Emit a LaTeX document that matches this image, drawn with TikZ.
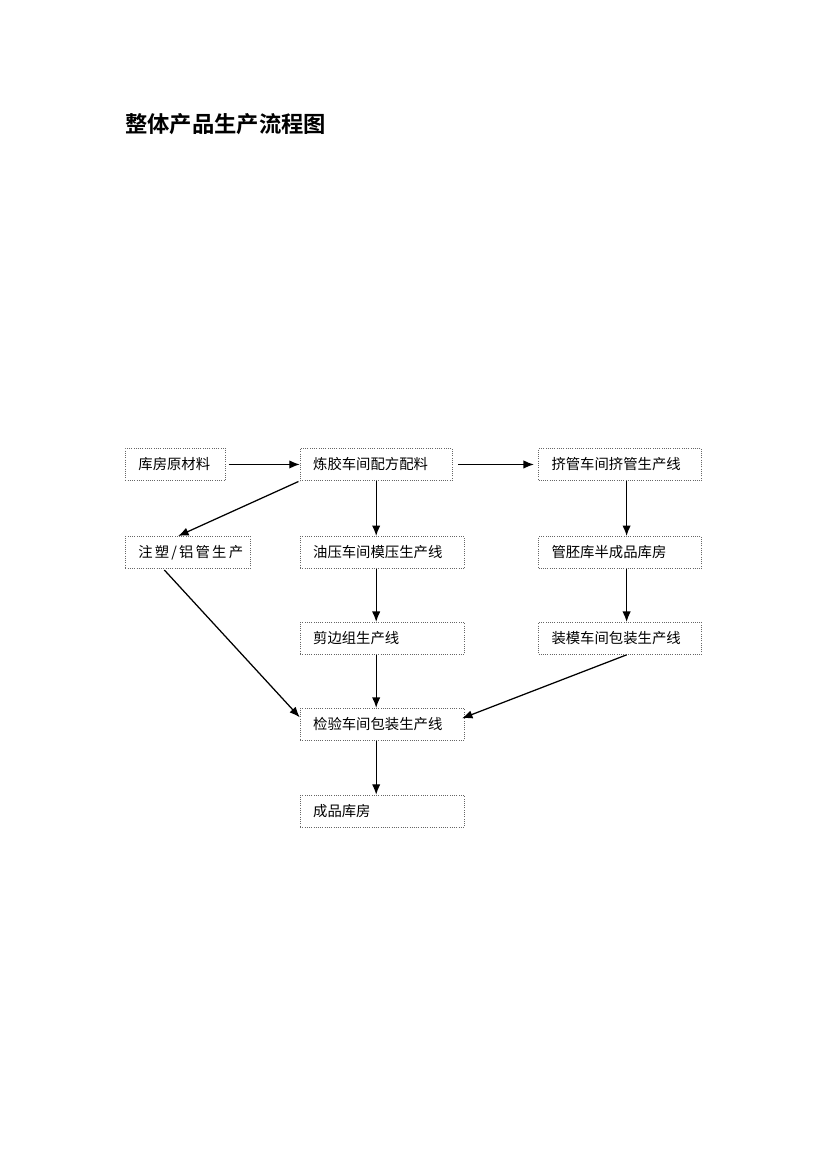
\documentclass[tikz,border=0pt]{standalone}
\usepackage{fontspec}
\newfontfamily\cjk{Noto Sans CJK SC}
\newfontfamily\cjkbold{Noto Sans CJK SC Bold}
\usetikzlibrary{positioning, arrows.meta}

\tikzset{
  stage/.style={draw=gray!80!black, densely dotted, line width=0.6pt,
    minimum height=23pt, inner xsep=9.3pt, align=left,
    text width=#1, font=\cjk\fontsize{10.3}{12}\selectfont},
  flow/.style={-{Latex[length=7.5pt,width=6pt]}, line width=0.9pt}
}

\begin{document}
\begin{tikzpicture}[x=0.717pt, y=-0.717pt]
\useasboundingbox (0,0) rectangle (830,1174);
\node[anchor=west, inner sep=0pt, font=\cjkbold\fontsize{16}{18}\selectfont] (title) at (125,124) {整体产品生产流程图};

\node[stage=53.1pt, anchor=north west] (raw) at (125,448) {库房原材料};
\node[stage=90.4pt, right=53pt of raw] (mix) {炼胶车间配方配料};
\node[stage=98.3pt, right=61.3pt of mix] (extr) {挤管车间挤管生产线};
\node[stage=71pt, below=39.5pt of raw.south west, anchor=north west]
    (inj) {\addfontfeature{LetterSpace=15}注塑/铝管生产};
\node[stage=99pt, below=39.5pt of mix.south west, anchor=north west] (press) {油压车间模压生产线};
\node[stage=98.3pt, below=39.5pt of extr.south west, anchor=north west] (blank) {管胚库半成品库房};
\node[stage=99pt, below=38pt of press.south west, anchor=north west] (trim) {剪边组生产线};
\node[stage=98.3pt, below=38pt of blank.south west, anchor=north west] (mould) {装模车间包装生产线};
\node[stage=99pt, below=38pt of trim.south west, anchor=north west] (check) {检验车间包装生产线};
\node[stage=99pt, below=38.7pt of check.south west, anchor=north west] (store) {成品库房};

\draw[flow, shorten <=2pt] (raw.east) -- (mix.west);
\draw[flow, shorten <=4pt, shorten >=3pt] (mix.east) -- (extr.west);
\draw[flow, shorten <=1pt] (mix.south west) -- ([xshift=-7pt]inj.north);
\draw[flow] (mix.south) -- (mix.south |- press.north);
\draw[flow] (mix.south |- press.south) -- (mix.south |- trim.north);
\draw[flow] (mix.south |- trim.south) -- (mix.south |- check.north);
\draw[flow] (mix.south |- check.south) -- (mix.south |- store.north);
\draw[flow] ([xshift=4.7pt]extr.south) -- ([xshift=4.7pt]blank.north);
\draw[flow] ([xshift=4.7pt]blank.south) -- ([xshift=4.7pt]mould.north);
\draw[flow, shorten <=1pt] ([xshift=-17.6pt]inj.south) -- ([yshift=5pt]check.west);
\draw[flow, shorten >=-2pt] ([xshift=4.7pt]mould.south) -- ([yshift=5pt]check.east);
\end{tikzpicture}
\end{document}
